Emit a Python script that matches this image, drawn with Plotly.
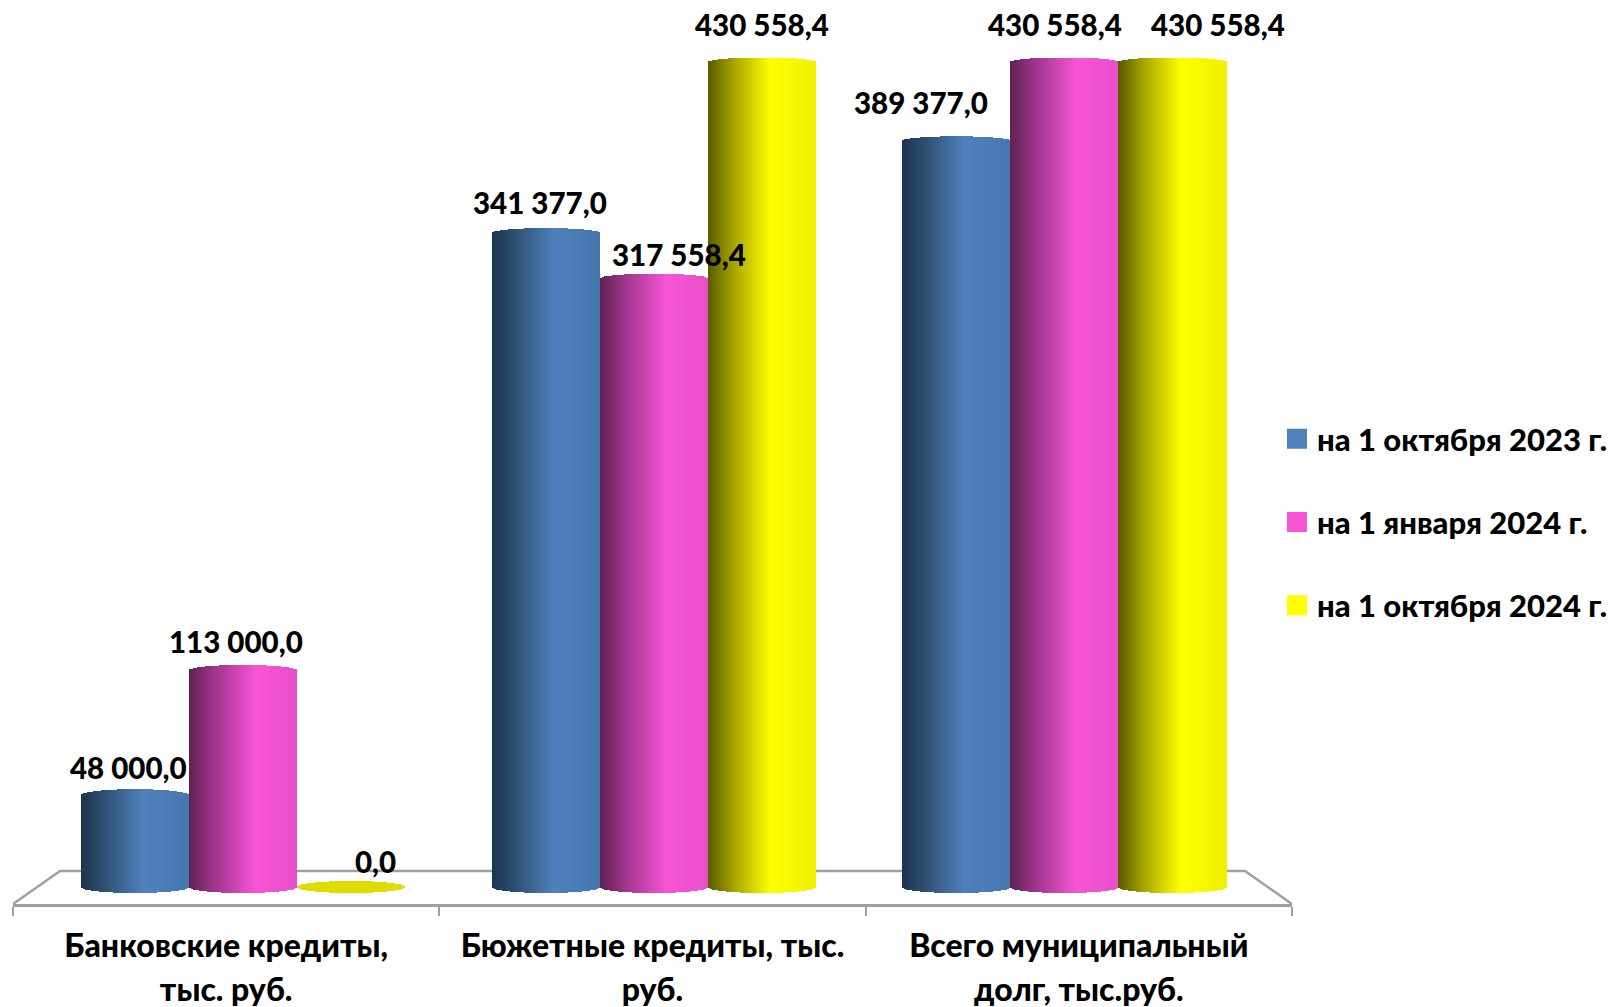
import plotly.graph_objects as go
import math

# --- data ---
categories = ["Банковские кредиты,<br>тыс. руб.", "Бюжетные кредиты, тыс.<br>руб.", "Всего муниципальный<br>долг, тыс.руб."]
series_names = ["на 1 октября 2023 г.", "на 1 января 2024 г.", "на 1 октября 2024 г."]
oct_2023 = [48000.0, 341377.0, 389377.0]
jan_2024 = [113000.0, 317558.4, 430558.4]
oct_2024 = [0.0, 430558.4, 430558.4]
series_values = [oct_2023, jan_2024, oct_2024]

# --- style ---
FONT = "Lato, 'Open Sans', sans-serif"
legend_colors = ["#4F81BD", "#F755D5", "#FFFF00"]
gradients = [
    [(0, "#1D3450"), (0.22, "#2F5073"), (0.58, "#4F81BD"), (1, "#4676AE")],
    [(0, "#5E2152"), (0.22, "#9A3489"), (0.62, "#F755D5"), (1, "#E84FC8")],
    [(0, "#5A5A00"), (0.25, "#A8A800"), (0.58, "#FFFF00"), (1, "#F0F000")],
]
zero_color = "#DDDD00"
floor_color = "#A0A0A0"
px_w, px_h = 1616, 1007
plot_l, plot_r, plot_t, plot_b = 13, 1292, 0, 904
zero_px = 887
px_per_unit = 825 / 430558.4
px_per_cat = (plot_r - plot_l) / 3
depth_mid = 0.963      # bars stand half way back on the perspective floor
depth_back = 0.9265    # back edge of the floor
cyl_width = 108 / px_per_cat
back_px = 16           # back floor edge above the zero level, in px
n_strips = 54

# label offsets (px): per series, per category
label_dx = [[-7, -6, -35], [-7, 25, -9], [24, 0, 46]]
label_gap = [28, 30, 38], [29, 24, 38], [26, 38, 38]


def hex2rgb(h):
    return tuple(int(h[i:i + 2], 16) for i in (1, 3, 5))


def grad(stops, t):
    for (a, ca), (b, cb) in zip(stops, stops[1:]):
        if t <= b:
            f = (t - a) / (b - a)
            r1, r2 = hex2rgb(ca), hex2rgb(cb)
            return "rgb(%d,%d,%d)" % tuple(round(p + (q - p) * f) for p, q in zip(r1, r2))
    return stops[-1][1]


def fmt(v):
    s = f"{v:,.1f}".replace(",", " ").replace(".", ",")
    return s


def bar_center(cat, ser):
    return 1.003 + (cat - 1) * depth_mid + (ser - 1) * cyl_width


fig = go.Figure()

# floor outline (behind the cylinders)
y_front = (zero_px - plot_b) / px_per_unit
y_back = back_px / px_per_unit
hw_back = 1.5 * depth_back
floor_x = [-0.5, 1 - hw_back, 1 + hw_back, 2.5]
floor_y = [y_front, y_back, y_back, y_front]
floor_path = "M " + " L ".join(f"{a} {b}" for a, b in zip(floor_x, floor_y))
floor_shape = dict(type="path", path=floor_path, xref="x", yref="y", layer="below",
                   line=dict(color=floor_color, width=2.5))

# cylinders, each drawn as narrow vertical bars for the shading
ry_base_px = 6
for s, vals in enumerate(series_values):
    for c, v in enumerate(vals):
        cx = bar_center(c, s)
        ry_top_px = 6 - 1.5 * v / max(oct_2024)
        xs, bases, heights, cols = [], [], [], []
        for k in range(n_strips):
            t = (k + 0.5) / n_strips
            u = 2 * t - 1
            arc = math.sqrt(max(0, 1 - u * u))
            xs.append(cx + u * cyl_width / 2)
            bottom = -ry_base_px * arc / px_per_unit
            top = v + ry_top_px * arc / px_per_unit
            bases.append(bottom)
            heights.append(top - bottom)
            cols.append(zero_color if v == 0 else grad(gradients[s], t))
        fig.add_trace(go.Bar(
            x=xs, y=heights, base=bases,
            width=cyl_width / n_strips * 1.25,
            marker=dict(color=cols, line=dict(width=0)),
            showlegend=False, hoverinfo="skip"))

# legend
for name, col in zip(series_names, legend_colors):
    fig.add_trace(go.Scatter(
        x=[None], y=[None], mode="markers", name=name, legendgroup=name,
        marker=dict(symbol="square", size=16, color=col, line=dict(color=col, width=4))))

# value labels
annotations = []
for s, vals in enumerate(series_values):
    for c, v in enumerate(vals):
        annotations.append(dict(
            x=bar_center(c, s), y=v, xref="x", yref="y", text=fmt(v),
            showarrow=False, xanchor="center", yanchor="middle",
            xshift=label_dx[s][c], yshift=label_gap[s][c],
            font=dict(family=FONT, size=29.5, color="#000000", weight=900)))

labels = [f'<span style="font-size:32px">{t}</span>' for t in categories]
labels = [l.replace("<br>", '</span><br><span style="font-size:32px">') for l in labels]

fig.update_layout(
    width=px_w, height=px_h,
    margin=dict(l=plot_l, r=px_w - plot_r, t=plot_t, b=px_h - plot_b, pad=0),
    paper_bgcolor="white", plot_bgcolor="white",
    barmode="overlay", bargap=0,
    annotations=annotations,
    shapes=[floor_shape],
    legend=dict(
        x=(1287 - 10 - plot_l) / (plot_r - plot_l), xanchor="left",
        y=1 - 522 / plot_b, yanchor="middle",
        tracegroupgap=40, borderwidth=0, bgcolor="rgba(0,0,0,0)",
        font=dict(family=FONT, size=31, color="#000000", weight=900)),
    xaxis=dict(
        range=[-0.5, 2.5], tickmode="array", tickvals=[0, 1, 2], ticktext=labels,
        ticks="", ticklen=0, showgrid=False, zeroline=False,
        showline=True, linecolor=floor_color, linewidth=2.5, layer="below traces",
        tickangle=0, ticklabelstandoff=10,
        tickfont=dict(family=FONT, size=33.5, color="#000000", weight=900),
        minor=dict(tickmode="array", tickvals=[-0.5, 0.5, 1.5, 2.5], ticks="outside",
                   ticklen=9, tickwidth=2, tickcolor=floor_color, showgrid=False),
    ),
    yaxis=dict(
        range=[-(plot_b - zero_px) / px_per_unit, (zero_px - plot_t) / px_per_unit],
        visible=False, showgrid=False, zeroline=False),
)
fig.write_html("out.html", config={"displayModeBar": False},
               post_script="document.body.style.margin='0';document.documentElement.style.overflow='hidden';")
